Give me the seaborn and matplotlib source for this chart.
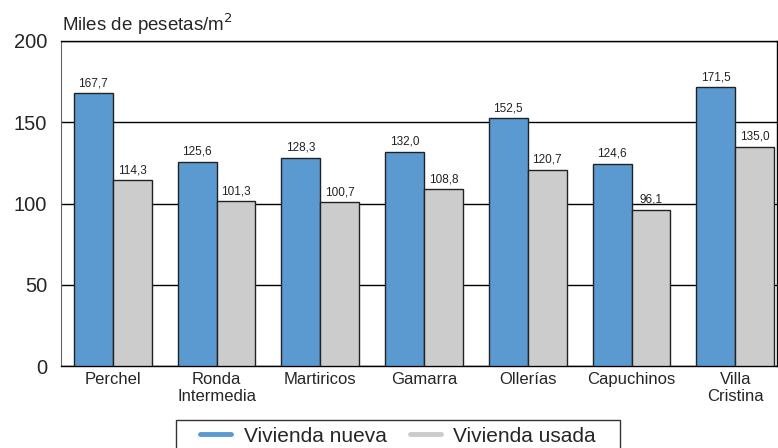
import pandas as pd
import seaborn as sns
import matplotlib.pyplot as plt
from matplotlib.lines import Line2D
from matplotlib.patches import Rectangle

# datos
barrios = ['Perchel', 'Ronda\nIntermedia', 'Martiricos', 'Gamarra', 'Ollerías', 'Capuchinos', 'Villa\nCristina']
nueva = [167.7, 125.6, 128.3, 132.0, 152.5, 124.6, 171.5]
usada = [114.3, 101.3, 100.7, 108.8, 120.7, 96.1, 135.0]
series = ['Vivienda nueva', 'Vivienda usada']
colores = ['#5a9ad0', '#cccccc']

df = pd.DataFrame({
    'barrio': barrios * 2,
    'valor': nueva + usada,
    'tipo': [series[0]] * len(barrios) + [series[1]] * len(barrios),
})

sns.set_style('white')
plt.rcParams['font.family'] = ['Liberation Sans', 'DejaVu Sans']

fig = plt.figure(figsize=(7.78, 4.48), dpi=100)
ax = fig.add_axes([0.0784, 0.183, 0.92, 0.7255])

sns.barplot(data=df, x='barrio', y='valor', hue='tipo', palette=colores,
            edgecolor='#222222', linewidth=1, width=0.75, saturation=1,
            legend=False, ax=ax, zorder=3)

for cont in ax.containers:
    ax.bar_label(cont, labels=[f'{v:.1f}'.replace('.', ',') for v in cont.datavalues],
                 padding=3, fontsize=8.5, color='#222222')

ax.set_ylim(0, 200)
ax.set_xlim(-0.5, 6.4)
ax.set_yticks([0, 50, 100, 150, 200])
ax.yaxis.grid(True, color='black', linewidth=1)
ax.set_axisbelow(True)
ax.tick_params(axis='y', labelsize=14.5, length=5, direction='in', color='black', pad=10)
ax.tick_params(axis='x', labelsize=12, length=0, pad=4)
ax.set_xlabel('')
ax.set_ylabel('')
ax.spines['left'].set_color('#666666')
for s in ['top', 'bottom', 'right']:
    ax.spines[s].set_color('black')
    ax.spines[s].set_linewidth(1)

fig.text(0.0797, 1 - 31 / 448, 'Miles de pesetas/m$^2$', fontsize=13.5, ha='left', va='baseline')

# leyenda con marco propio
fig.patches.append(Rectangle((176 / 778, -0.02), 444 / 778, 28 / 448 + 0.02,
                             transform=fig.transFigure, fill=False,
                             edgecolor='#333333', linewidth=1))
handles = [Line2D([0], [0], color=c, lw=3.5) for c in colores]
fig.legend(handles, series, loc='center', bbox_to_anchor=(398 / 778, 12 / 448),
           ncol=2, frameon=False, fontsize=15, handlelength=1.5,
           handletextpad=0.6, columnspacing=1.1, borderpad=0)

fig.savefig('out.png', dpi=100)
